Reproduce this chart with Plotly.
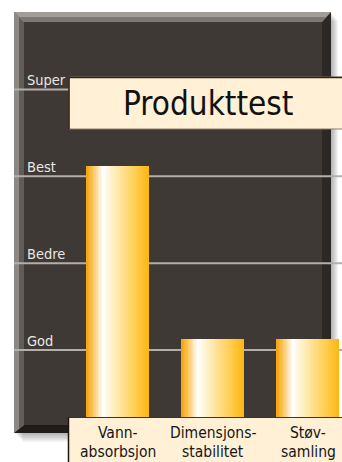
import plotly.graph_objects as go

# Data
categories = ["Vann-absorbsjon", "Dimensjons-stabilitet", "Støv-samling"]
scores = [3.12, 1.13, 1.13]
level_values = [1, 2, 3, 4]
level_labels = ["God", "Bedre", "Best", "Super"]
title_text = "Produkttest"

W, H = 342, 462
FONT = "Liberation Sans Narrow, DejaVu Sans Condensed, Arial Narrow, sans-serif"


def px(x):
    return x / W


def py(y):
    return 1 - y / H


def poly(points):
    pts = [f"{px(x):.5f},{py(y):.5f}" for x, y in points]
    return "M " + " L ".join(pts) + " Z"


def mix(c1, c2, t):
    return tuple(round(a + (b - a) * t) for a, b in zip(c1, c2))


# Horizontal colour profile across each bar
stops = [
    (0.00, (245, 163, 10)),
    (0.10, (251, 196, 90)),
    (0.26, (255, 255, 255)),
    (0.50, (255, 232, 170)),
    (0.78, (255, 206, 84)),
    (1.00, (252, 183, 18)),
]


def profile(t):
    for (t0, c0), (t1, c1) in zip(stops, stops[1:]):
        if t <= t1:
            return mix(c0, c1, (t - t0) / (t1 - t0))
    return stops[-1][1]


fig = go.Figure()

bar_width = 0.653
n_strips = 48
strip = bar_width / n_strips
xpos = list(range(len(categories)))
for i in range(n_strips):
    r, g, b = profile((i + 0.5) / n_strips)
    fig.add_trace(go.Bar(
        x=xpos,
        y=scores,
        width=strip * 1.15,
        offset=-bar_width / 2 + i * strip,
        marker=dict(color=f"rgb({r},{g},{b})", line=dict(width=0)),
        hoverinfo="skip",
        showlegend=False,
    ))

shapes = []

# soft drop shadow behind the frame
for k in range(1, 10):
    shapes.append(dict(
        type="rect", xref="paper", yref="paper", layer="below",
        x0=px(14 + k), x1=px(331 + k * 0.8), y0=py(12 + k), y1=py(433 + k),
        fillcolor="rgba(0,0,0,0.035)", line=dict(width=0),
    ))

# bevelled frame
ox0, oy0, ox1, oy1 = 14, 12, 331, 433
ix0, iy0, ix1, iy1 = 24, 22, 322, 425
mx0, my0, mx1, my1 = 19, 17, 326.5, 429
shapes += [
    dict(type="path", path=poly([(ox0, oy0), (ox1, oy0), (ix1, iy0), (ix0, iy0)]),
         xref="paper", yref="paper", layer="below", fillcolor="#7c7773", line=dict(width=0)),
    dict(type="path", path=poly([(ox0, oy0), (ox1, oy0), (mx1, my0), (mx0, my0)]),
         xref="paper", yref="paper", layer="below", fillcolor="#a19d99", line=dict(width=0)),
    dict(type="path", path=poly([(ox0, oy0), (ix0, iy0), (ix0, iy1), (ox0, oy1)]),
         xref="paper", yref="paper", layer="below", fillcolor="#615c58", line=dict(width=0)),
    dict(type="path", path=poly([(ox0, oy0), (mx0, my0), (mx0, my1), (ox0, oy1)]),
         xref="paper", yref="paper", layer="below", fillcolor="#8c8884", line=dict(width=0)),
    dict(type="path", path=poly([(ox1, oy0), (ox1, oy1), (ix1, iy1), (ix1, iy0)]),
         xref="paper", yref="paper", layer="below", fillcolor="#2c2825", line=dict(width=0)),
    dict(type="path", path=poly([(ox0, oy1), (ox1, oy1), (ix1, iy1), (ix0, iy1)]),
         xref="paper", yref="paper", layer="below", fillcolor="#201c19", line=dict(width=0)),
    dict(type="rect", xref="paper", yref="paper", layer="below",
         x0=px(ix0), x1=px(ix1), y0=py(iy0), y1=py(iy1),
         fillcolor="#3e3935", line=dict(width=0)),
]

# level gridlines
for v in level_values:
    shapes.append(dict(
        type="line", xref="paper", yref="y", layer="below",
        x0=px(14), x1=1, y0=v, y1=v,
        line=dict(color="#b3afab", width=2),
    ))

# title box and category box
shapes += [
    dict(type="rect", xref="paper", yref="paper", layer="above",
         x0=px(69), x1=px(345), y0=py(77), y1=py(129),
         fillcolor="#fff0d6", line=dict(color="#8d7c68", width=1)),
    dict(type="line", xref="paper", yref="paper", layer="above",
         x0=px(69), x1=px(345), y0=py(77.5), y1=py(77.5),
         line=dict(color="#2a2522", width=1.5)),
    dict(type="line", xref="paper", yref="paper", layer="above",
         x0=px(69), x1=px(69), y0=py(77), y1=py(129),
         line=dict(color="#2a2522", width=1.5)),
    dict(type="rect", xref="paper", yref="paper", layer="above",
         x0=px(68), x1=px(345), y0=py(417), y1=py(470),
         fillcolor="#fff0d6", line=dict(width=0)),
    dict(type="line", xref="paper", yref="paper", layer="above",
         x0=px(68), x1=px(345), y0=py(417.5), y1=py(417.5),
         line=dict(color="#3a332e", width=1)),
    dict(type="line", xref="paper", yref="paper", layer="above",
         x0=px(68.5), x1=px(68.5), y0=py(417), y1=py(470),
         line=dict(color="#1a1613", width=1.5)),
]

annotations = []
for v, lab in zip(level_values, level_labels):
    annotations.append(dict(
        x=px(25), y=v, xref="paper", yref="y", text=lab, showarrow=False,
        xanchor="left", yanchor="bottom", yshift=-1,
        font=dict(family=FONT, size=14.5, color="#ebe7e3"),
    ))

annotations.append(dict(
    x=px(208), y=py(103), xref="paper", yref="paper", text=title_text,
    showarrow=False, xanchor="center", yanchor="middle",
    font=dict(family=FONT, size=33, color="#111111"),
))

for xi, cat in zip(xpos, categories):
    head, tail = cat.split("-", 1)
    for k, line in enumerate([head + "-", tail]):
        annotations.append(dict(
            x=xi, y=py(433 + 19 * k), xref="x", yref="paper", text=line,
            showarrow=False, xanchor="center", yanchor="middle",
            font=dict(family=FONT, size=15.5, color="#161616"),
        ))

# axes in data units: 95 px per category step, 86.8 px per level
fig.update_layout(
    width=W, height=H,
    margin=dict(l=0, r=0, t=0, b=0),
    paper_bgcolor="white",
    plot_bgcolor="rgba(0,0,0,0)",
    barmode="overlay",
    bargap=0,
    xaxis=dict(range=[-118 / 95, (W - 118) / 95], visible=False, fixedrange=True),
    yaxis=dict(range=[-(H - 436.8) / 86.83, 436.8 / 86.83], visible=False, fixedrange=True),
    shapes=shapes,
    annotations=annotations,
    showlegend=False,
)

fig.write_html("out.html")
